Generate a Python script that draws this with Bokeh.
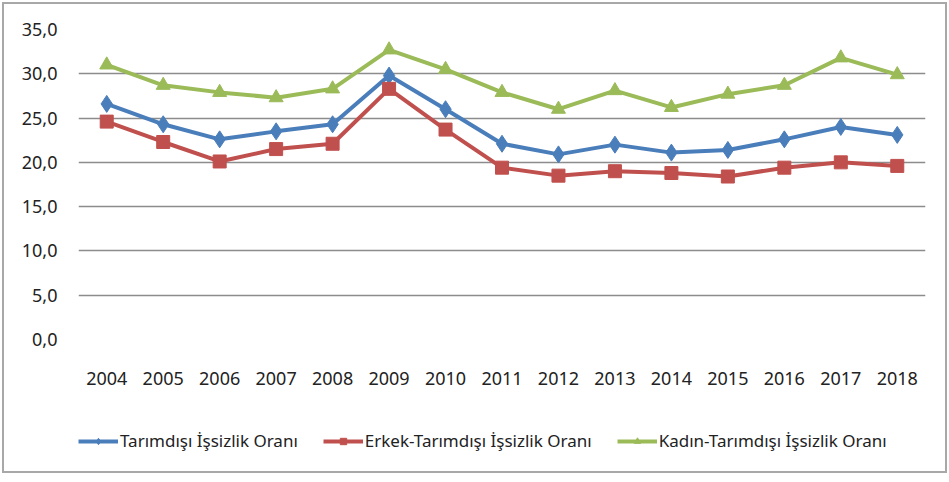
from bokeh.plotting import figure
from bokeh.layouts import column
from bokeh.models import FactorRange, Range1d, FixedTicker, Legend, LegendItem, CustomJSTickFormatter
from bokeh.embed import file_html
from bokeh.resources import INLINE

years = ["2004", "2005", "2006", "2007", "2008", "2009", "2010", "2011",
         "2012", "2013", "2014", "2015", "2016", "2017", "2018"]
tarimdisi = [26.6, 24.3, 22.6, 23.5, 24.3, 29.8, 26.0, 22.1, 20.9, 22.0, 21.1, 21.4, 22.6, 24.0, 23.1]
erkek = [24.6, 22.3, 20.1, 21.5, 22.1, 28.3, 23.7, 19.4, 18.5, 19.0, 18.8, 18.4, 19.4, 20.0, 19.6]
kadin = [31.0, 28.7, 27.9, 27.3, 28.3, 32.7, 30.5, 27.9, 26.0, 28.1, 26.2, 27.7, 28.7, 31.8, 29.9]
y_ticks = [0, 5, 10, 15, 20, 25, 30, 35]

FONT = "Noto Sans"
W = 941

p = figure(width=W, height=405, x_range=FactorRange(factors=years, range_padding=0),
           y_range=Range1d(0, 35), output_backend="svg", toolbar_location=None,
           min_border_left=74, min_border_right=20, min_border_top=25, min_border_bottom=70)
p.outline_line_color = None
p.xgrid.grid_line_color = None
p.ygrid.grid_line_color = "#8c8c8c"
p.ygrid.grid_line_width = 1.5
p.yaxis.ticker = FixedTicker(ticks=y_ticks)
p.yaxis.formatter = CustomJSTickFormatter(code="return tick.toFixed(1).replace('.', ',');")
for ax in (p.xaxis[0], p.yaxis[0]):
    ax.axis_line_color = None
    ax.major_tick_line_color = None
    ax.minor_tick_line_color = None
    ax.major_label_text_font = FONT
    ax.major_label_text_font_size = "18px"
    ax.major_label_text_color = "#222222"
p.yaxis.major_label_standoff = 15
p.xaxis.major_label_standoff = 26

# legend-only strip under the chart
p2 = figure(width=W, height=62, x_range=p.x_range, y_range=Range1d(1000, 1001),
            output_backend="svg", toolbar_location=None, min_border=0)
p2.axis.visible = False
p2.grid.grid_line_color = None
p2.outline_line_color = None

series = [
    (tarimdisi, "#4a7ebb", "diamond", 17, "Tarımdışı İşsizlik Oranı"),
    (erkek, "#c0504d", "square", 13, "Erkek-Tarımdışı İşsizlik Oranı"),
    (kadin, "#9bbb59", "triangle", 14, "Kadın-Tarımdışı İşsizlik Oranı"),
]
items = []
for vals, color, marker, size, label in series:
    p.line(years, vals, line_color=color, line_width=4)
    p.scatter(years, vals, marker=marker, size=size, fill_color=color, line_color=color)
    l = p2.line(years, vals, line_color=color, line_width=4)
    s = p2.scatter(years, vals, marker=marker, size=size, fill_color=color, line_color=color)
    items.append(LegendItem(label=label, renderers=[l, s]))

legend = Legend(items=items, orientation="horizontal", location=(0, 19),
                label_text_font=FONT, label_text_font_size="17px", label_text_color="#222222",
                glyph_width=40, glyph_height=16, spacing=25, label_standoff=2,
                border_line_color=None, background_fill_alpha=0, margin=0, padding=0)
p2.add_layout(legend, "center")

layout = column(p, p2, spacing=0, styles={"border": "2px solid #a8a8a8", "margin": "2px"})
open("out.html", "w").write(file_html(layout, INLINE))
